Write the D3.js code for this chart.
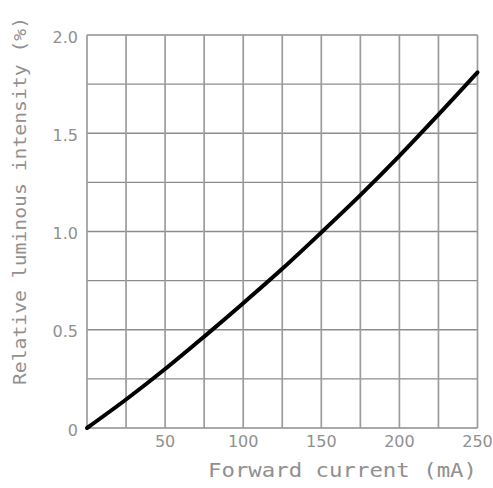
<!DOCTYPE html>
<html>
<head>
<meta charset="utf-8">
<script src="https://cdn.jsdelivr.net/npm/d3@7"></script>
<style>
  html, body { margin: 0; padding: 0; background: #fff; }
  svg { display: block; }
</style>
</head>
<body>
<svg id="chart" width="493" height="488"></svg>
<script>
// Data
const currents = [0, 25, 50, 75, 100, 125, 150, 175, 200, 225, 250];
const intensity = [0, 0.145, 0.30, 0.465, 0.635, 0.81, 0.995, 1.185, 1.385, 1.595, 1.81];
const xGrid = [0, 25, 50, 75, 100, 125, 150, 175, 200, 225, 250];
const yGrid = [0, 0.25, 0.5, 0.75, 1.0, 1.25, 1.5, 1.75, 2.0];
const xTickValues = [50, 100, 150, 200, 250];
const xTickLabels = ["50", "100", "150", "200", "250"];
const yTickValues = [0, 0.5, 1.0, 1.5, 2.0];
const yTickLabels = ["0", "0.5", "1.0", "1.5", "2.0"];
const xTitle = "Forward current (mA)";
const yTitle = "Relative luminous intensity (%)";

const svg = d3.select("#chart");
const margin = { left: 87, right: 15.5, top: 35, bottom: 60 };
const W = 493, H = 488;

const x = d3.scaleLinear().domain([0, 250]).range([margin.left, W - margin.right]);
const y = d3.scaleLinear().domain([0, 2]).range([H - margin.bottom, margin.top]);

const textColor = "#909090";

// Grid lines
svg.append("g").selectAll("line").data(yGrid).join("line")
  .attr("x1", x(0)).attr("x2", x(250))
  .attr("y1", d => y(d)).attr("y2", d => y(d))
  .attr("stroke", "#8c8c8c").attr("stroke-width", 1.3);

svg.append("g").selectAll("line").data(xGrid).join("line")
  .attr("y1", y(0)).attr("y2", y(2))
  .attr("x1", d => x(d)).attr("x2", d => x(d))
  .attr("stroke", "#9c9c9c").attr("stroke-width", 1.7);

// Curve
const pts = currents.map((c, i) => [c, intensity[i]]);
const line = d3.line().x(d => x(d[0])).y(d => y(d[1])).curve(d3.curveCatmullRom);
svg.append("path").datum(pts)
  .attr("d", line)
  .attr("fill", "none")
  .attr("stroke", "#000")
  .attr("stroke-width", 4)
  .attr("stroke-linecap", "round");

// X tick labels
svg.append("g").selectAll("text").data(xTickValues).join("text")
  .attr("x", d => x(d))
  .attr("y", 447)
  .attr("text-anchor", "middle")
  .attr("font-family", "DejaVu Sans, sans-serif")
  .attr("font-size", 16)
  .attr("fill", textColor)
  .text((d, i) => xTickLabels[i]);

// Y tick labels
svg.append("g").selectAll("text").data(yTickValues).join("text")
  .attr("x", 78)
  .attr("y", d => y(d) + 2)
  .attr("dy", "0.35em")
  .attr("text-anchor", "end")
  .attr("font-family", "DejaVu Sans, sans-serif")
  .attr("font-size", 16)
  .attr("fill", textColor)
  .text((d, i) => yTickLabels[i]);

// Axis titles
svg.append("text")
  .attr("x", 208)
  .attr("y", 477)
  .attr("font-family", "DejaVu Sans Mono, monospace")
  .attr("font-size", 20)
  .attr("fill", textColor)
  .attr("textLength", 269)
  .attr("lengthAdjust", "spacingAndGlyphs")
  .text(xTitle);

svg.append("text")
  .attr("transform", "translate(26,385) rotate(-90)")
  .attr("x", 0)
  .attr("y", 0)
  .attr("font-family", "DejaVu Sans Mono, monospace")
  .attr("font-size", 17)
  .attr("fill", textColor)
  .attr("textLength", 368)
  .attr("lengthAdjust", "spacingAndGlyphs")
  .text(yTitle);
</script>
</body>
</html>
